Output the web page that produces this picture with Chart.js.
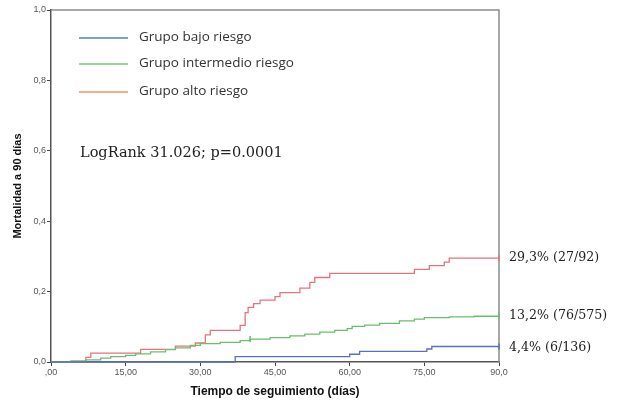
<!DOCTYPE html>
<html>
<head>
<meta charset="utf-8">
<script src="https://cdn.jsdelivr.net/npm/chart.js@4/dist/chart.umd.min.js"></script>
<style>
  html, body { margin: 0; padding: 0; background: #fff; }
  #wrap { width: 618px; height: 400px; position: relative; }
</style>
</head>
<body>
<div id="wrap"><canvas id="km-chart"></canvas></div>
<script>
// dias de seguimiento y mortalidad acumulada (Kaplan-Meier) por grupo
const days_bajo = [0, 37, 60, 62, 75.5, 76.5, 90]
const mort_bajo = [0, 0.015, 0.022, 0.030, 0.037, 0.044, 0.044]

const days_inter = [0, 4, 7, 10, 12, 15, 17, 20, 23, 25, 28, 30, 34, 38, 40, 44, 48, 51, 54, 57, 59.5, 60.5, 63, 66, 70, 73, 75, 80, 85, 90]
const mort_inter = [0, 0.003, 0.006, 0.011, 0.015, 0.019, 0.023, 0.029, 0.035, 0.040, 0.047, 0.052, 0.056, 0.061, 0.065, 0.069, 0.074, 0.079, 0.085, 0.090, 0.095, 0.101, 0.105, 0.110, 0.117, 0.122, 0.126, 0.128, 0.130, 0.132]

const days_alto = [0, 7, 8, 18, 25, 29, 31, 32, 38, 39, 39.6, 40.7, 42, 45, 46, 50, 52, 53, 56, 73, 76, 79, 80, 90]
const mort_alto = [0, 0.013, 0.025, 0.036, 0.045, 0.054, 0.077, 0.090, 0.104, 0.140, 0.155, 0.166, 0.176, 0.186, 0.197, 0.210, 0.226, 0.240, 0.252, 0.263, 0.274, 0.284, 0.295, 0.295]

const group_names = ["Grupo bajo riesgo", "Grupo intermedio riesgo", "Grupo alto riesgo"]
const end_labels = ["4,4% (6/136)", "13,2% (76/575)", "29,3% (27/92)"]
const censored_inter = [40, 90]

const x_ticks = [0, 15, 30, 45, 60, 75, 90]
const x_tick_labels = [",00", "15,00", "30,00", "45,00", "60,00", "75,00", "90,0"]
const y_tick_labels = ["0,0", "0,2", "0,4", "0,6", "0,8", "1,0"]

const line_colors = ["#5a72b5", "#6cbd6c", "#e5737b"]
const legend_colors = ["#4f7fc4", "#7cc474", "#f0946a"]

const toXY = (xs, ys) => xs.map((d, i) => ({ x: d, y: ys[i] }))

// marca de censura al final de cada curva
const censorRadius = (extra) => (ctx) => {
  const d = ctx.raw.x
  if (d === 90) return 3
  if (extra && extra.includes(d)) return 3
  return 0
}

const overlay = {
  id: 'overlay',
  beforeDatasetsDraw(chart) {
    const { ctx, chartArea: a } = chart
    ctx.save()
    // marco
    ctx.strokeStyle = '#8a8a8a'
    ctx.lineWidth = 1.5
    ctx.beginPath()
    ctx.moveTo(a.left, a.top)
    ctx.lineTo(a.right, a.top)
    ctx.lineTo(a.right, a.bottom)
    ctx.stroke()
    ctx.restore()
  },
  afterDraw(chart) {
    const { ctx, scales } = chart
    ctx.save()
    // leyenda
    ctx.lineWidth = 1.5
    ctx.font = '13.5px "Open Sans"'
    ctx.textBaseline = 'middle'
    ctx.fillStyle = '#333'
    const ly = [38, 64, 92]
    group_names.forEach((name, i) => {
      ctx.strokeStyle = legend_colors[i]
      ctx.beginPath()
      ctx.moveTo(79, ly[i])
      ctx.lineTo(128, ly[i])
      ctx.stroke()
      ctx.fillText(name, 139, ly[i] - 1)
    })

    // texto LogRank
    ctx.font = '14.5px "DejaVu Serif"'
    ctx.fillStyle = '#222'
    ctx.fillText('LogRank 31.026; p=0.0001', 80, 153)

    // etiquetas finales
    ctx.font = '12.6px "DejaVu Serif"'
    const finals = [mort_bajo, mort_inter, mort_alto]
    const offs = [1, 0, 0]
    finals.forEach((arr, i) => {
      const y = scales.y.getPixelForValue(arr[arr.length - 1])
      ctx.fillText(end_labels[i], 509, y + offs[i])
    })
    ctx.restore()
  }
}

const CHART = document.getElementById('km-chart')

const lineDataset = (i, xs, ys, extra) => ({
  label: group_names[i], data: toXY(xs, ys),
  borderColor: line_colors[i], backgroundColor: line_colors[i],
  stepped: 'before', borderWidth: 1.3, clip: 3,
  pointRadius: censorRadius(extra), pointStyle: 'line', rotation: 90,
  pointBorderColor: line_colors[i], pointBorderWidth: 1.5
})

let myChart = new Chart(CHART, {
  type: 'line',
  data: {
    datasets: [
      lineDataset(0, days_bajo, mort_bajo),
      lineDataset(1, days_inter, mort_inter, censored_inter),
      lineDataset(2, days_alto, mort_alto),
    ]
  },
  options: {
    responsive: true,
    maintainAspectRatio: false,
    animation: false,
    layout: { padding: { top: 10, right: 119, left: 0, bottom: 0 } },
    plugins: {
      legend: { display: false },
      tooltip: { enabled: false },
    },
    scales: {
      x: {
        type: 'linear',
        min: 0, max: 90,
        afterFit: (s) => { s.height = 38 },
        afterBuildTicks: (s) => { s.ticks = x_ticks.map(v => ({ value: v })) },
        ticks: {
          autoSkip: false, maxRotation: 0, padding: 1,
          color: '#555', font: { family: 'Liberation Sans', size: 9 },
          callback: (v) => x_tick_labels[x_ticks.indexOf(v)]
        },
        grid: { drawOnChartArea: false, tickLength: 4, color: '#444', lineWidth: 1 },
        border: { color: '#555', width: 1.5 },
        title: {
          display: true, text: 'Tiempo de seguimiento (días)',
          color: '#111', font: { family: 'Liberation Sans', size: 12, weight: 'bold' },
          padding: { top: 0, bottom: 1 }
        }
      },
      y: {
        min: 0, max: 1,
        afterFit: (s) => { s.width = 51 },
        ticks: {
          stepSize: 0.2, padding: 1,
          color: '#555', font: { family: 'Liberation Sans', size: 9 },
          callback: (v) => y_tick_labels[Math.round(v * 5)]
        },
        grid: { drawOnChartArea: false, tickLength: 4, color: '#444', lineWidth: 1 },
        border: { color: '#555', width: 1.5 },
        title: {
          display: true, text: 'Mortalidad a 90 días',
          color: '#111', font: { family: 'Liberation Sans', size: 11, weight: 'bold' },
          padding: { top: 11, bottom: 0 }
        }
      }
    }
  },
  plugins: [overlay]
});
</script>
</body>
</html>
